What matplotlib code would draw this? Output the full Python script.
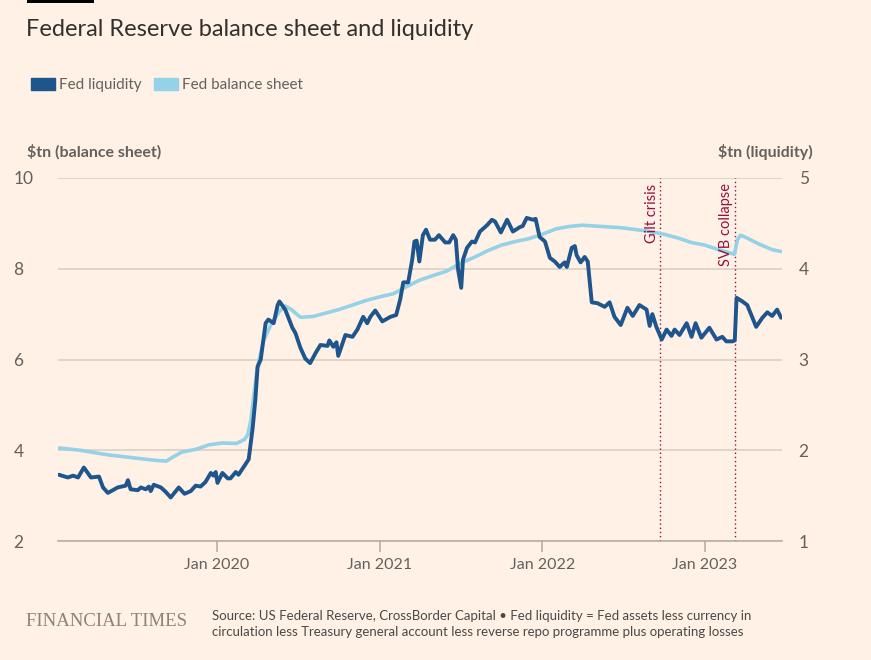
import pandas as pd
import matplotlib.pyplot as plt
import matplotlib.dates as mdates
from matplotlib.patches import Patch, Rectangle

# --- data ($tn) ---
bs_dates = ["2019-01-12", "2019-03-01", "2019-05-01", "2019-07-01", "2019-08-15", "2019-09-10",
            "2019-09-25", "2019-10-15", "2019-11-15", "2019-12-15", "2020-01-15", "2020-02-15",
            "2020-03-04", "2020-03-11", "2020-03-18", "2020-03-25", "2020-04-01", "2020-04-15",
            "2020-05-01", "2020-05-20", "2020-06-03", "2020-06-17", "2020-07-01", "2020-07-08",
            "2020-08-05", "2020-09-01", "2020-10-01", "2020-11-01", "2020-12-01", "2021-01-01",
            "2021-02-01", "2021-03-01", "2021-04-01", "2021-05-01", "2021-06-01", "2021-07-01",
            "2021-08-01", "2021-09-01", "2021-10-01", "2021-11-01", "2021-12-01", "2022-01-01",
            "2022-02-01", "2022-03-01", "2022-04-01", "2022-05-01", "2022-06-01", "2022-07-01",
            "2022-08-01", "2022-09-01", "2022-10-01", "2022-11-01", "2022-12-01", "2023-01-01",
            "2023-02-01", "2023-03-01", "2023-03-08", "2023-03-15", "2023-03-22", "2023-04-05",
            "2023-05-01", "2023-06-01", "2023-06-21"]
bs_values = [4.05, 4.00, 3.90, 3.83, 3.78, 3.76,
             3.85, 3.96, 4.02, 4.12, 4.16, 4.15,
             4.24, 4.35, 4.66, 5.25, 5.80, 6.40,
             6.75, 7.05, 7.18, 7.10, 6.98, 6.93,
             6.95, 7.02, 7.10, 7.20, 7.30, 7.38,
             7.45, 7.60, 7.75, 7.85, 7.95, 8.12,
             8.25, 8.40, 8.52, 8.60, 8.66, 8.76,
             8.88, 8.93, 8.96, 8.94, 8.92, 8.90,
             8.86, 8.82, 8.76, 8.68, 8.58, 8.52,
             8.42, 8.34, 8.32, 8.64, 8.74, 8.68,
             8.55, 8.42, 8.38]

liq_dates = ["2019-01-12", "2019-02-01", "2019-02-13", "2019-02-24", "2019-03-09", "2019-03-25",
             "2019-04-12", "2019-04-21", "2019-05-02", "2019-05-24", "2019-06-11", "2019-06-16",
             "2019-06-22", "2019-07-08", "2019-07-15", "2019-07-26", "2019-08-02", "2019-08-06",
             "2019-08-13", "2019-08-29", "2019-09-09", "2019-09-20", "2019-10-08", "2019-10-21",
             "2019-11-04", "2019-11-15", "2019-11-26", "2019-12-07", "2019-12-19", "2019-12-25",
             "2019-12-30", "2020-01-03", "2020-01-14", "2020-01-26", "2020-02-01", "2020-02-13",
             "2020-02-19", "2020-03-01", "2020-03-13", "2020-03-22", "2020-03-28", "2020-04-02",
             "2020-04-09", "2020-04-20", "2020-04-26", "2020-05-08", "2020-05-17", "2020-05-21",
             "2020-06-03", "2020-06-19", "2020-06-26", "2020-07-07", "2020-07-18", "2020-07-29",
             "2020-08-10", "2020-08-21", "2020-09-06", "2020-09-10", "2020-09-19", "2020-09-26",
             "2020-09-30", "2020-10-16", "2020-11-01", "2020-11-12", "2020-11-25", "2020-12-04",
             "2020-12-11", "2020-12-22", "2021-01-07", "2021-01-25", "2021-02-07", "2021-02-16",
             "2021-02-23", "2021-03-06", "2021-03-15", "2021-03-20", "2021-03-25", "2021-03-31",
             "2021-04-08", "2021-04-15", "2021-04-24", "2021-05-05", "2021-05-14", "2021-05-28",
             "2021-06-06", "2021-06-15", "2021-06-21", "2021-06-26", "2021-07-03", "2021-07-07",
             "2021-07-16", "2021-07-27", "2021-08-03", "2021-08-14", "2021-08-30", "2021-09-10",
             "2021-09-17", "2021-09-30", "2021-10-14", "2021-10-27", "2021-11-12", "2021-11-18",
             "2021-11-27", "2021-12-11", "2021-12-17", "2021-12-26", "2022-01-07", "2022-01-18",
             "2022-01-29", "2022-02-09", "2022-02-20", "2022-02-25", "2022-03-08", "2022-03-15",
             "2022-03-19", "2022-03-28", "2022-04-06", "2022-04-13", "2022-04-22", "2022-05-05",
             "2022-05-21", "2022-06-01", "2022-06-12", "2022-06-26", "2022-07-11", "2022-07-23",
             "2022-08-07", "2022-08-23", "2022-08-30", "2022-09-05", "2022-09-14", "2022-09-26",
             "2022-10-07", "2022-10-18", "2022-10-25", "2022-11-05", "2022-11-21", "2022-12-02",
             "2022-12-11", "2022-12-24", "2023-01-11", "2023-01-27", "2023-02-09", "2023-02-18",
             "2023-03-04", "2023-03-09", "2023-03-13", "2023-03-26", "2023-04-06", "2023-04-26",
             "2023-05-10", "2023-05-21", "2023-06-01", "2023-06-12", "2023-06-21"]
liq_values = [1.73, 1.70, 1.72, 1.70, 1.81, 1.70,
              1.71, 1.59, 1.53, 1.59, 1.61, 1.67,
              1.57, 1.56, 1.59, 1.57, 1.60, 1.55,
              1.62, 1.59, 1.54, 1.48, 1.59, 1.52,
              1.55, 1.61, 1.60, 1.65, 1.75, 1.72,
              1.76, 1.64, 1.75, 1.69, 1.69, 1.76,
              1.73, 1.81, 1.90, 2.25, 2.56, 2.92,
              3.00, 3.40, 3.44, 3.40, 3.60, 3.64,
              3.55, 3.35, 3.29, 3.13, 3.01, 2.96,
              3.07, 3.16, 3.15, 3.21, 3.14, 3.19,
              3.04, 3.27, 3.25, 3.33, 3.47, 3.40,
              3.47, 3.54, 3.42, 3.47, 3.49, 3.66,
              3.85, 3.85, 4.10, 4.30, 4.31, 4.08,
              4.37, 4.43, 4.32, 4.32, 4.37, 4.29,
              4.29, 4.37, 4.32, 3.99, 3.79, 4.10,
              4.23, 4.30, 4.29, 4.41, 4.48, 4.54,
              4.52, 4.40, 4.54, 4.41, 4.46, 4.47,
              4.56, 4.54, 4.55, 4.35, 4.30, 4.12,
              4.08, 4.02, 4.07, 4.02, 4.23, 4.25,
              4.15, 4.07, 4.13, 4.08, 3.63, 3.62,
              3.58, 3.63, 3.47, 3.38, 3.57, 3.48,
              3.60, 3.55, 3.37, 3.50, 3.36, 3.22,
              3.33, 3.26, 3.33, 3.27, 3.40, 3.25,
              3.40, 3.24, 3.35, 3.22, 3.25, 3.20,
              3.20, 3.21, 3.68, 3.64, 3.60, 3.36,
              3.46, 3.52, 3.48, 3.55, 3.46]

events = ["Gilt crisis", "SVB collapse"]
event_dates = ["2022-09-23", "2023-03-09"]

bs_dates = pd.to_datetime(bs_dates)
liq_dates = pd.to_datetime(liq_dates)
event_dates = pd.to_datetime(event_dates)

# --- style ---
BG = "#FFF1E5"
DARK = "#1E558C"
LIGHT = "#95D1E7"
CLARET = "#990F3D"
GRID = "#D9CCC1"
TXT = "#33302E"
GREY = "#66605C"

plt.rcParams["font.family"] = ["Lato", "DejaVu Sans"]

W, H = 871, 660
fig = plt.figure(figsize=(W / 100, H / 100), dpi=100, facecolor=BG)
ax = fig.add_axes([58 / W, 1 - 541 / H, (782 - 58) / W, (541 - 178) / H], facecolor=BG)
ax2 = ax.twinx()

ax.set_ylim(2, 10)
ax2.set_ylim(1, 5)
ax.set_xlim(pd.Timestamp("2019-01-10"), pd.Timestamp("2023-06-23"))

ax.set_yticks([2, 4, 6, 8, 10])
ax2.set_yticks([1, 2, 3, 4, 5])
ax.grid(axis="y", color=GRID, lw=1.1)
for a in (ax, ax2):
    for s in a.spines.values():
        s.set_visible(False)
    a.tick_params(axis="y", length=0, labelsize=12.5, labelcolor=GREY)
ax.tick_params(axis="y", pad=32)
for lab in ax.get_yticklabels():
    lab.set_horizontalalignment("left")
ax2.tick_params(axis="y", pad=12)

ax.xaxis.set_major_locator(mdates.YearLocator(1, month=1, day=1))
ax.xaxis.set_major_formatter(mdates.DateFormatter("Jan %Y"))
ax.tick_params(axis="x", length=8, width=1.1, color="#B3A9A0", labelsize=11.5,
               labelcolor=GREY, pad=4)
ax.spines["bottom"].set_visible(True)
ax.spines["bottom"].set_color("#B3A9A0")
ax.spines["bottom"].set_linewidth(1.1)

ax.plot(bs_dates, bs_values, color=LIGHT, lw=2.6, solid_capstyle="round", zorder=3)
ax2.plot(liq_dates, liq_values, color=DARK, lw=2.8, solid_capstyle="round", zorder=4)

for name, d in zip(events, event_dates):
    ax.axvline(d, color=CLARET, lw=1.0, ls=(0, (1, 2)), zorder=2)
    ax.text(d - pd.Timedelta(days=4), 9.88, name, rotation=90, ha="right", va="top",
            color=CLARET, fontsize=10.5)

# --- texts ---
fig.add_artist(Rectangle((27 / W, 1 - 3 / H), 67 / W, 3 / H, transform=fig.transFigure,
                         color="#000000", lw=0))
fig.text(26 / W, 1 - 30 / H, "Federal Reserve balance sheet and liquidity", fontsize=17,
         color=TXT, va="center", ha="left")

handles = [Patch(color=DARK), Patch(color=LIGHT)]
fig.legend(handles, ["Fed liquidity", "Fed balance sheet"], loc="center left",
           bbox_to_anchor=(17 / W, 1 - 85 / H), ncol=2, frameon=False, fontsize=11,
           handlelength=1.6, handleheight=0.8, handletextpad=0.25, columnspacing=0.8,
           labelcolor=GREY)

fig.text(27 / W, 1 - 152 / H, "$tn (balance sheet)", fontsize=11.5, fontweight="bold",
         color=GREY, va="center", ha="left")
fig.text(813 / W, 1 - 152 / H, "$tn (liquidity)", fontsize=11.5, fontweight="bold",
         color=GREY, va="center", ha="right")

fig.text(26 / W, 1 - 622 / H, "FINANCIAL TIMES", family="Liberation Serif", fontsize=13.5,
         color="#8C8279", va="center", ha="left")
fig.text(212 / W, 1 - 624 / H,
         "Source: US Federal Reserve, CrossBorder Capital \u2022 Fed liquidity = Fed assets less currency in\n"
         "circulation less Treasury general account less reverse repo programme plus operating losses",
         fontsize=9.5, color="#4D4845", va="center", ha="left", linespacing=1.35)

fig.savefig("out.png", dpi=100, facecolor=BG)
